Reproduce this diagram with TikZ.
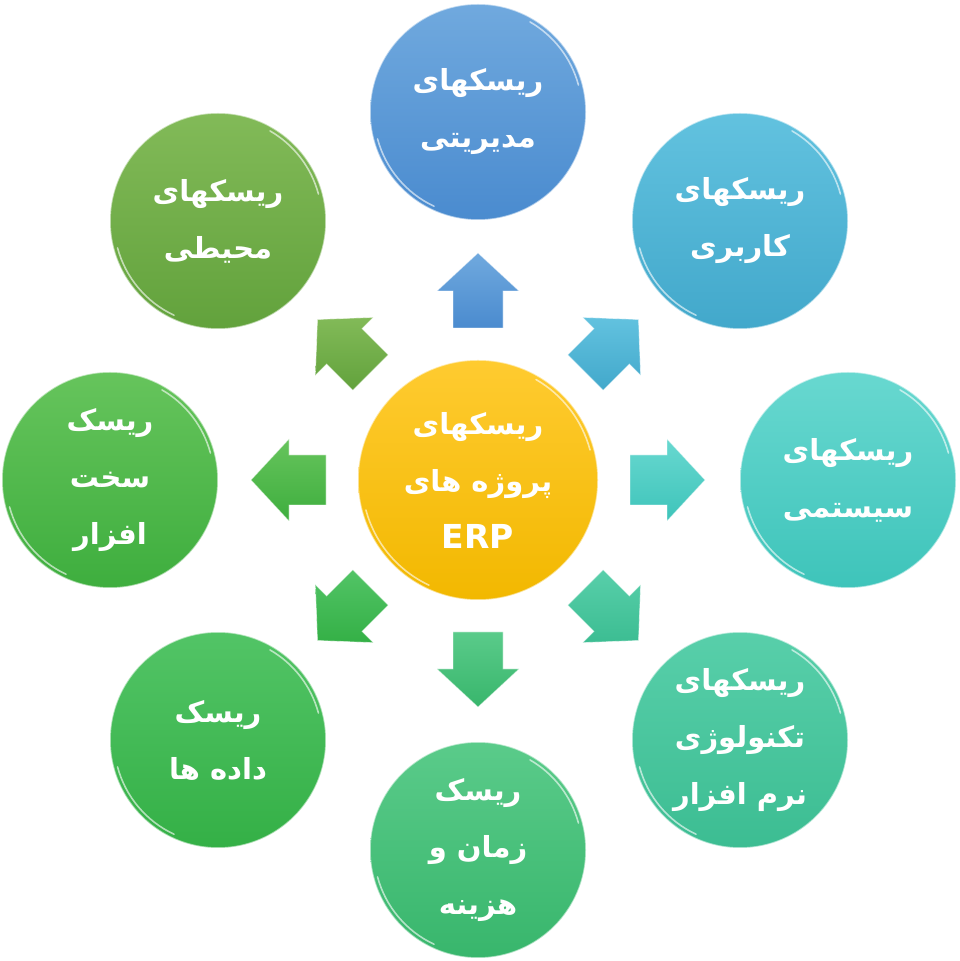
\documentclass[tikz,border=0pt]{standalone}
\usepackage{fontspec}
\TeXXeTstate=1
\newfontfamily\arabicfont[Script=Arabic]{DejaVu Sans}
\setsansfont{DejaVu Sans}
\newcommand{\pers}[1]{{\arabicfont\bfseries\beginR #1\endR}}
\usetikzlibrary{calc}
\definecolor{cTtop}{HTML}{70A9DE}\definecolor{cTbot}{HTML}{4A8BCF}
\definecolor{cTRtop}{HTML}{62C2DF}\definecolor{cTRbot}{HTML}{42A8CB}
\definecolor{cRtop}{HTML}{68D8D0}\definecolor{cRbot}{HTML}{3EC4BA}
\definecolor{cBRtop}{HTML}{58CFAA}\definecolor{cBRbot}{HTML}{3CBD92}
\definecolor{cBtop}{HTML}{5ACB8A}\definecolor{cBbot}{HTML}{38B66C}
\definecolor{cBLtop}{HTML}{52C466}\definecolor{cBLbot}{HTML}{34B046}
\definecolor{cLtop}{HTML}{66C45C}\definecolor{cLbot}{HTML}{3EAE3E}
\definecolor{cTLtop}{HTML}{82BA58}\definecolor{cTLbot}{HTML}{62A23C}
\definecolor{cCtop}{HTML}{FFCB30}\definecolor{cCbot}{HTML}{F2B800}
\tikzset{
  bubble/.style n args={2}{circle, minimum size=216pt, inner sep=0pt,
    top color=#1, bottom color=#2, draw=white, draw opacity=0.55, line width=1.5pt,
    text=white, align=center, font=\fontsize{29}{57}\selectfont\bfseries},
  bigbubble/.style n args={2}{bubble={#1}{#2}, minimum size=240pt},
  blockarrow/.style n args={2}{top color=#1, bottom color=#2,
    draw=white, draw opacity=0.5, line width=0.8pt},
  gloss/.style={draw=white, draw opacity=0.6, line width=1.6pt, line cap=round},
}
\begin{document}
\begin{tikzpicture}[x=1pt,y=1pt]
\useasboundingbox (0,0) rectangle (959,961);
\node[bigbubble={cCtop}{cCbot}] (C) at (478,481) {\pers{ریسکهای}\\\pers{پروژه های}\\{\sffamily\bfseries\fontsize{33}{57}\selectfont ERP}};
\node[bubble={cTtop}{cTbot}] (T) at (478,849) {\pers{ریسکهای}\\\pers{مدیریتی}};
\node[bubble={cTRtop}{cTRbot}] (TR) at (740,740) {\pers{ریسکهای}\\\pers{کاربری}};
\node[bubble={cRtop}{cRbot}] (R) at (848,481) {\pers{ریسکهای}\\\pers{سیستمی}};
\node[bubble={cBRtop}{cBRbot}] (BR) at (740,221) {\pers{ریسکهای}\\\pers{تکنولوژی}\\\pers{نرم افزار}};
\node[bubble={cBtop}{cBbot}] (B) at (478,111) {\pers{ریسک}\\\pers{زمان و}\\\pers{هزینه}};
\node[bubble={cBLtop}{cBLbot}] (BL) at (218,221) {\pers{ریسک}\\\pers{داده ها}};
\node[bubble={cLtop}{cLbot}] (L) at (110,481) {\pers{ریسک}\\\pers{سخت}\\\pers{افزار}};
\node[bubble={cTLtop}{cTLbot}] (TL) at (218,740) {\pers{ریسکهای}\\\pers{محیطی}};
\foreach \n/\r in {T/104, TR/104, R/104, BR/104, B/104, BL/104, L/104, TL/104, C/116}{
  \draw[gloss] ($(\n.center)+(195:\r)$) arc[start angle=195, end angle=245, radius=\r];
  \draw[gloss] ($(\n.center)+(15:\r)$) arc[start angle=15, end angle=60, radius=\r];
}
\foreach \ang/\ct/\cb in {90/cTtop/cTbot, 45/cTRtop/cTRbot, 0/cRtop/cRbot, -45/cBRtop/cBRbot,
  -90/cBtop/cBbot, -135/cBLtop/cBLbot, 180/cLtop/cLbot, 135/cTLtop/cTLbot}{
  \path[shift={(C.center)}, rotate=\ang, blockarrow={\ct}{\cb}]
    (152,-25) -- (189,-25) -- (189,-41) -- (227,0) -- (189,41) -- (189,25) -- (152,25) -- cycle;
}
\end{tikzpicture}
\end{document}
